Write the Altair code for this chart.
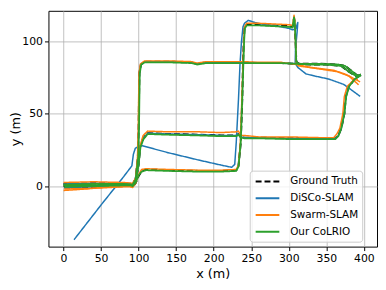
import altair as alt
import pandas as pd

SERIES = ["Ground Truth", "DiSCo-SLAM", "Swarm-SLAM", "Our CoLRIO"]
COLORS = ["#000000", "#1f77b4", "#ff7f0e", "#2ca02c"]
DASHES = [[6, 3], [1, 0], [1, 0], [1, 0]]
WIDTHS = [2.0, 1.5, 1.5, 1.8]
X_TICKS = [0, 50, 100, 150, 200, 250, 300, 350, 400]
Y_TICKS = [0, 50, 100]

# ---------------- Ground Truth ----------------
gt1_x = [0, 30, 60, 88, 92, 96, 100, 104, 110, 140, 180, 210, 230, 233, 236, 238, 239, 240, 241, 244,
         260, 280, 300, 305, 307, 308, 309, 310, 313, 340, 365, 375, 385, 392, 396]
gt1_y = [0, 0, 0.5, 0.5, -0.5, 2, 7, 10.5, 11.5, 11, 10.5, 10.5, 11, 14, 30, 60, 84, 100, 109, 111.5,
         111.5, 111, 110.5, 110, 116, 113, 100, 86, 84.5, 84.5, 84, 83, 79, 76, 77]
gt2_x = [0, 40, 80, 92, 96, 99, 100, 100.5, 101, 103, 108, 140, 170, 178, 190, 220, 238, 260, 290, 310,
         330, 350, 370, 380, 390, 396]
gt2_y = [1.5, 2, 2, 1.5, 5, 20, 40, 60, 78, 84, 86, 86, 85.5, 84.5, 85.5, 85.5, 85.5, 85, 85, 84.5,
         84, 84, 83, 79, 76, 77]
gt3_x = [1, 40, 80, 92, 96, 100, 102, 106, 112, 140, 180, 210, 230, 233, 236, 241, 260, 300, 340, 362,
         366, 370, 374, 376, 380, 388, 396]
gt3_y = [-1, -0.5, 0, 0, 3, 15, 27, 33, 36.5, 36, 35.5, 35, 35, 36, 34, 33.5, 33.5, 33, 33, 33,
         35, 40, 50, 62, 69, 74, 77]

# ---------------- DiSCo-SLAM ----------------
di1_x = [14, 50, 80, 91, 93, 95.5, 100, 104, 140, 180, 210, 224, 228, 230, 233, 235, 237, 239, 241, 246,
         255, 262, 280, 300, 305, 309, 312, 311, 309, 308.5, 312, 323, 335, 353, 373, 382, 395]
di1_y = [-37, -13, 6.5, 14, 22, 26, 27.5, 28, 23, 18, 14.5, 13, 15, 30, 60, 84, 100, 110, 112.5, 114.5,
         113, 112, 111, 109, 108, 108.5, 113, 106, 95, 85, 82, 77.5, 76, 74, 70.3, 67, 62]
di2_x = [0, 40, 80, 92, 96, 99, 100, 100.5, 101, 103, 108, 140, 170, 178, 190, 220, 238, 260, 290, 310]
di2_y = [1.5, 2, 2, 1.5, 5, 20, 40, 60, 78, 84, 86, 86, 85.5, 84.5, 85.5, 85.5, 85.5, 85, 85, 84.5]
di3_x = [1, 40, 80, 92, 96, 100, 102, 106, 112, 140, 180, 210, 230, 233, 236, 241, 260, 300, 340, 362,
         366, 370, 374, 376, 380, 388, 396]
di3_y = [-1, -0.5, 0, 0, 3, 15, 27, 33, 36.5, 36, 35.5, 35, 35, 36, 34, 33.5, 33.5, 33, 33, 33,
         35, 40, 50, 62, 69, 74, 77]

# ---------------- Swarm-SLAM ----------------
sw1_x = [0, 30, 60, 88, 92, 96, 100, 104, 110, 140, 180, 210, 230, 233, 235.5, 237.5, 239, 240, 241, 244,
         260, 280, 300, 305, 307, 308, 309, 310, 313, 340, 365, 380, 393]
sw1_y = [-3, -2, -0.5, 0, -1, 2, 8, 11.5, 12, 11.5, 11, 11, 11.5, 14.5, 30, 60, 84, 100, 110, 112.5,
         112.5, 112, 111.5, 111, 118, 114, 100, 85, 83, 81, 79, 76, 70]
sw2_x = [0, 40, 80, 92, 96, 98.5, 99.5, 100, 100.5, 102.5, 108, 140, 170, 178, 190, 220, 238, 260, 290, 310,
         330, 360, 377, 395]
sw2_y = [2.5, 3, 2.5, 2, 5.5, 20, 40, 60, 78, 84.5, 86.5, 86.5, 86, 85, 86, 86, 86, 85.5, 85.5, 84,
         82, 80, 77, 72]
sw3_x = [1, 40, 80, 92, 96, 100, 102, 106, 112, 140, 180, 210, 230, 233, 236, 241, 260, 300, 340, 360,
         364, 368, 372, 374, 378, 386, 392]
sw3_y = [-2, -1.5, -0.5, -0.5, 3, 16, 28, 35, 38, 37.5, 37.5, 37, 37.5, 38, 35, 35, 34, 34, 33.5, 33.5,
         36, 40, 50, 62, 69, 73, 74]

# ---------------- Our CoLRIO ----------------
co1_x = [0, 30, 60, 88, 92, 96, 100, 104, 110, 140, 180, 210, 230, 233, 236, 238, 239.5, 240.5, 241.5, 244,
         260, 280, 300, 305, 307, 308, 309, 310, 313, 340, 365, 375, 385, 392, 396]
co1_y = [0.5, 0.5, 1, 1, 0, 2.5, 7.5, 10, 11, 10.5, 10, 10, 10.5, 13.5, 30, 60, 84, 100, 109, 111,
         111, 110.5, 110, 109.5, 116.5, 113, 100, 86, 84.5, 84.5, 84, 83, 79, 76, 77]
co2_x = [0, 40, 80, 92, 96, 99.5, 100.5, 101, 101.5, 103.5, 108, 140, 170, 178, 190, 220, 238, 260, 290, 310,
         330, 350, 370, 380, 390, 396]
co2_y = [1, 1.5, 1.5, 1, 4.5, 20, 40, 60, 78, 84, 85.5, 85.5, 85, 84, 85, 85, 85, 85, 85, 84.5,
         84, 84, 83, 79, 76, 77]
co3_x = [1, 40, 80, 92, 96, 100, 102.5, 106.5, 112, 140, 180, 210, 230, 233, 236, 241, 260, 300, 340, 362,
         366, 370, 374, 376.5, 380.5, 388, 396]
co3_y = [-0.5, 0, 0.5, 0.5, 3.5, 15, 27, 32.5, 36, 35.5, 35, 34.5, 34.5, 35.5, 33.5, 33, 33, 32.5, 32.5, 32.5,
         34.5, 40, 50, 62, 69, 74, 76.5]

TRAJ = {
    "Ground Truth": [(gt1_x, gt1_y), (gt2_x, gt2_y), (gt3_x, gt3_y)],
    "DiSCo-SLAM": [(di1_x, di1_y), (di2_x, di2_y), (di3_x, di3_y)],
    "Swarm-SLAM": [(sw1_x, sw1_y), (sw2_x, sw2_y), (sw3_x, sw3_y)],
    "Our CoLRIO": [(co1_x, co1_y), (co2_x, co2_y), (co3_x, co3_y)],
}

rows = []
for s, segs in TRAJ.items():
    for k, (xs, ys) in enumerate(segs):
        for i, (xv, yv) in enumerate(zip(xs, ys)):
            rows.append({"series": s, "seg": f"{s}-{k}", "idx": i, "x": xv, "y": yv})
df = pd.DataFrame(rows)

PLOT_H = 239

legend = alt.Legend(
    orient="none", legendX=204, legendY=162, title=None,
    fillColor="rgba(255,255,255,0.8)", strokeColor="#cccccc", cornerRadius=3,
    padding=4, labelFont="DejaVu Sans", labelFontSize=10.5, labelColor="black",
    symbolType="M-2,0H2", symbolSize=144, symbolStrokeWidth=2,
    symbolOffset=7, labelOffset=16, rowPadding=4,
)

xenc = alt.X("x:Q", scale=alt.Scale(domain=[-20.1, 417.5], nice=False, zero=False),
             axis=alt.Axis(values=X_TICKS, title="x (m)", titlePadding=4))
yenc = alt.Y("y:Q", scale=alt.Scale(domain=[-41.8, 121.1], nice=False, zero=False),
             axis=alt.Axis(values=Y_TICKS, title="y (m)", titleX=-33, titleY=PLOT_H / 2,
                           titleAngle=270, titleAlign="center", titleBaseline="middle"))
cenc = alt.Color("series:N", scale=alt.Scale(domain=SERIES, range=COLORS), legend=legend)
denc = alt.StrokeDash("series:N", scale=alt.Scale(domain=SERIES, range=DASHES), legend=legend)

layers = []
for s, w in zip(SERIES, WIDTHS):
    layers.append(
        alt.Chart(df)
        .transform_filter(alt.datum.series == s)
        .mark_line(strokeWidth=w, strokeJoin="round", clip=True)
        .encode(x=xenc, y=yenc, color=cenc, strokeDash=denc, detail="seg:N", order="idx:Q")
    )

chart = (
    alt.layer(*layers)
    .properties(width=333, height=PLOT_H,
                autosize=alt.AutoSizeParams(type="none"),
                padding={"left": 41, "top": 1, "right": 1, "bottom": 34})
    .configure_view(stroke="black", strokeWidth=1)
    .configure_axis(grid=True, gridColor="#b0b0b0", gridWidth=0.8, domain=False,
                    tickColor="black", tickSize=4, labelPadding=2,
                    labelFont="DejaVu Sans", labelFontSize=11, labelColor="black",
                    titleFont="DejaVu Sans", titleFontSize=13, titleFontWeight="normal",
                    titleColor="black")
)

chart.save("out.html", embed_options={"renderer": "svg", "actions": False})
